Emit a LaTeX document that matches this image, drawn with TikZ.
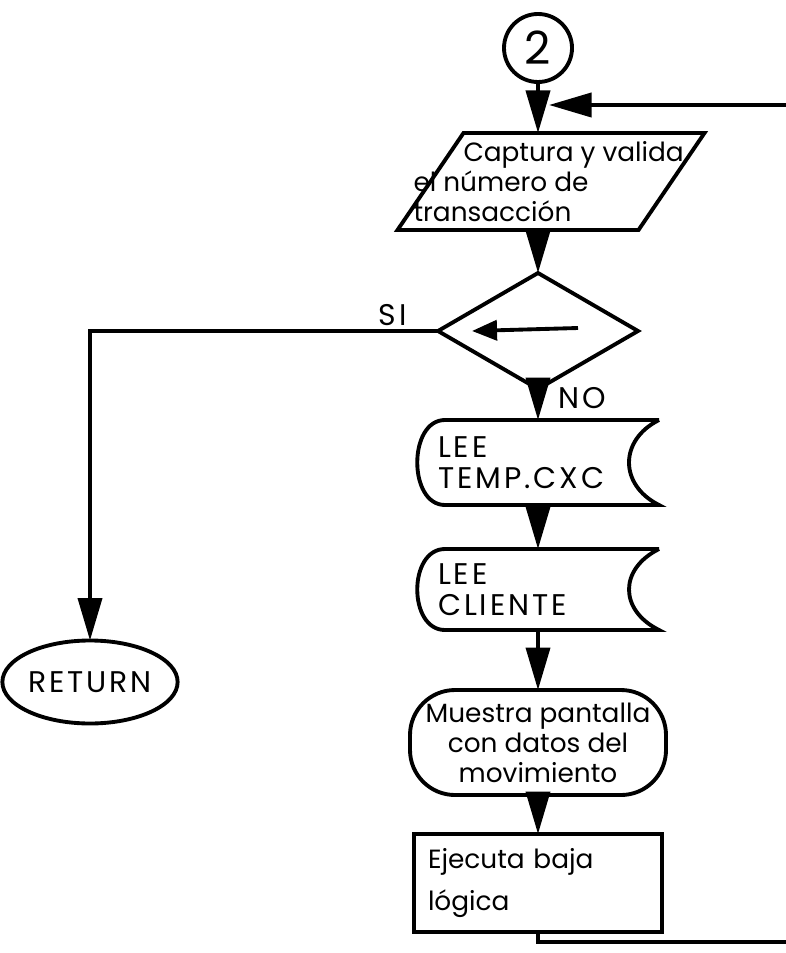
\documentclass[tikz,border=0pt]{standalone}
\usepackage{fontspec}
\setmainfont{Poppins}
\newfontfamily\capsfont[LetterSpace=10]{Poppins}
\usetikzlibrary{positioning, shapes.geometric, arrows.meta, calc}

\begin{document}
\begin{tikzpicture}[
  x=0.2mm, y=-0.2mm,
  line width=2.2pt,
  font=\fontsize{15}{17}\selectfont,
  every node/.append style={outer sep=0pt},
  connector/.style={
    circle,
    draw,
    minimum size=13.6mm,
    inner sep=0pt,
    font=\fontsize{26}{26}\selectfont
  },
  inout/.style={
    rectangle,
    minimum width=61.4mm,
    minimum height=19.4mm,
    inner sep=0pt
  },
  decision/.style={
    diamond,
    draw,
    minimum width=40mm,
    minimum height=23.2mm,
    inner sep=0pt
  },
  storage/.style={
    rectangle,
    minimum width=48.4mm,
    minimum height=17mm,
    text width=40mm,
    align=left,
    font=\capsfont\fontsize{17}{18}\selectfont
  },
  display/.style={
    rectangle,
    draw,
    rounded corners=9mm,
    minimum width=51.2mm,
    minimum height=21mm,
    align=center
  },
  process/.style={
    rectangle,
    draw,
    minimum width=49.6mm,
    minimum height=19.6mm,
    text width=44mm,
    align=left,
    font=\fontsize{15}{24}\selectfont
  },
  terminal/.style={
    ellipse,
    draw,
    minimum width=32mm,
    minimum height=16.6mm,
    inner sep=0pt,
    font=\capsfont\fontsize{17}{18}\selectfont
  },
  lbl/.style={inner sep=0pt, font=\capsfont\fontsize{17}{18}\selectfont},
  flow/.style={-{Triangle[length=8.5mm, width=4.8mm]}},
  smallflow/.style={-{Triangle[length=5mm, width=4mm]}}
]
\useasboundingbox (0,0) rectangle (785,953);

\node[connector] (conn) at (538,48) {2};
\node[inout, below=10.2mm of conn, xshift=2.6mm] (capture) {\parbox[c][17mm][c]{55mm}{\raggedright
  \hspace*{10mm}Captura y valida\\el número de\\transacción}};
\node[decision, below=8.6mm of capture, xshift=-2.6mm] (check) {};
\node[storage, below=6.2mm of check] (leetemp) {LEE\\TEMP.CXC};
\node[storage, below=8.8mm of leetemp, minimum height=16.2mm] (leecli) {LEE\\CLIENTE};
\node[display, below=12mm of leecli] (show) {Muestra pantalla\\con datos del\\movimiento};
\node[process, below=7.8mm of show] (exec) {Ejecuta baja\\lógica};
\node[terminal] (ret) at (90,682) {RETURN};

\coordinate (loopR) at (800,105);
\coordinate (join) at (549,105);

% outlines of the input and file shapes
\draw ($(capture.north west)+(66,0)$) -- (capture.north east)
  -- ($(capture.south east)+(-66,0)$) -- (capture.south west) -- cycle;
\foreach \n in {leetemp, leecli}
  \draw (\n.north east) -- ($(\n.north west)+(28,0)$)
    .. controls ($(\n.north west)+(-9,0)$) and ($(\n.south west)+(-9,0)$) .. ($(\n.south west)+(28,0)$)
    -- (\n.south east)
    .. controls ($(\n.south east)+(-40,-20)$) and ($(\n.north east)+(-40,20)$) .. (\n.north east);

\draw[smallflow] ($(check.center)+(40,-3)$) -- ($(check.center)+(-66,0)$);

\draw[flow] (conn.south) -- (conn.south |- capture.north);
\draw[flow] (capture.south -| check) -- (check.north);
\draw[flow] (check.south) -- node[lbl, pos=0.3, right=4mm] {NO} (leetemp.north);
\draw[flow] (leetemp.south) -- (leecli.north);
\draw[flow] (leecli.south) -- (show.north);
\draw[flow] (show.south) -- (exec.north);
\draw[flow] (check.west) -| node[lbl, pos=0.065, above=1mm] {SI} (ret.north);
\draw[flow] (exec.south) -- ++(0,10) -| (loopR) -- (join);

\end{tikzpicture}
\end{document}
